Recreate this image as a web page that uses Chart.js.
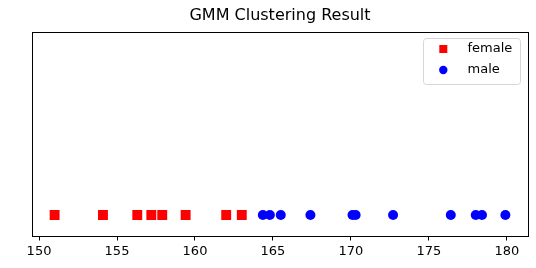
<!DOCTYPE html>
<html><head><meta charset="utf-8">
<script src="https://cdn.jsdelivr.net/npm/chart.js@4/dist/chart.umd.min.js"></script>
<style>html,body{margin:0;padding:0;background:#fff}#wrap{width:536px;height:268px}</style>
</head><body><div id="wrap"><canvas id="c" width="536" height="268"></canvas></div>
<script>
const femaleHeights = [151.0, 154.1, 156.3, 157.2, 157.9, 159.4, 162.0, 163.0];
const maleHeights = [164.35, 164.8, 165.5, 167.4, 170.1, 170.3, 172.7, 176.4, 178.0, 178.4, 179.9];
const xTicks = [150, 155, 160, 165, 170, 175, 180];
const seriesLabels = ['female', 'male'];
const titleText = 'GMM Clustering Result';

const FONT = "'DejaVu Sans', sans-serif";

const framePlugin = {
  id: 'frame',
  afterDraw(chart) {
    const {ctx, chartArea: a} = chart;
    ctx.save();
    ctx.strokeStyle = '#000';
    ctx.lineWidth = 1;
    ctx.strokeRect(Math.round(a.left) + 0.5, Math.round(a.top) + 0.5, Math.round(a.right - a.left), Math.round(a.bottom - a.top));
    const bx = 423, by = 38, bw = 97, bh = 46;
    ctx.fillStyle = 'rgba(255,255,255,0.8)';
    ctx.strokeStyle = '#d6d6d6';
    ctx.beginPath();
    ctx.roundRect(bx + 0.5, by + 0.5, bw, bh, 3);
    ctx.fill(); ctx.stroke();
    ctx.font = '13px ' + FONT;
    ctx.textBaseline = 'middle';
    chart.data.datasets.forEach((ds, i) => {
      const y = by + 11 + i * 21;
      ctx.fillStyle = ds.backgroundColor;
      if (ds.pointStyle === 'rect') {
        ctx.fillRect(439.3, y - 4, 8, 8);
      } else {
        ctx.beginPath(); ctx.arc(443.3, y, 4.2, 0, Math.PI * 2); ctx.fill();
      }
      ctx.fillStyle = '#000';
      ctx.fillText(ds.label, 467.5, y);
    });
    ctx.restore();
  }
};

new Chart(document.getElementById('c'), {
  type: 'scatter',
  data: {
    datasets: [
      { label: seriesLabels[0], data: femaleHeights.map(v => ({x: v, y: 0})), pointStyle: 'rect', pointRadius: 7, backgroundColor: '#ff0000', borderWidth: 0 },
      { label: seriesLabels[1], data: maleHeights.map(v => ({x: v, y: 0})), pointStyle: 'circle', pointRadius: 5, backgroundColor: '#0000ff', borderWidth: 0 }
    ]
  },
  options: {
    responsive: false,
    animation: false,
    devicePixelRatio: 1,
    layout: { padding: { left: 32, right: 8, top: 0, bottom: 0 } },
    plugins: {
      legend: { display: false },
      tooltip: { enabled: false },
      title: { display: true, text: titleText, color: '#000', font: { family: FONT, size: 16, weight: 'normal' }, padding: { top: 6, bottom: 7 } }
    },
    scales: {
      x: {
        type: 'linear', min: 149.55, max: 181.35,
        afterBuildTicks(s) { s.ticks = xTicks.map(v => ({value: v})); },
        afterFit(s) { s.height = 31.5; },
        grid: { drawOnChartArea: false, drawTicks: true, tickLength: 4, color: '#000' },
        border: { display: true, color: '#000' },
        ticks: { color: '#000', font: { family: FONT, size: 13 }, padding: 3, maxRotation: 0 }
      },
      y: { display: false, min: -0.105, max: 0.895 }
    }
  },
  plugins: [framePlugin]
});
</script></body></html>
